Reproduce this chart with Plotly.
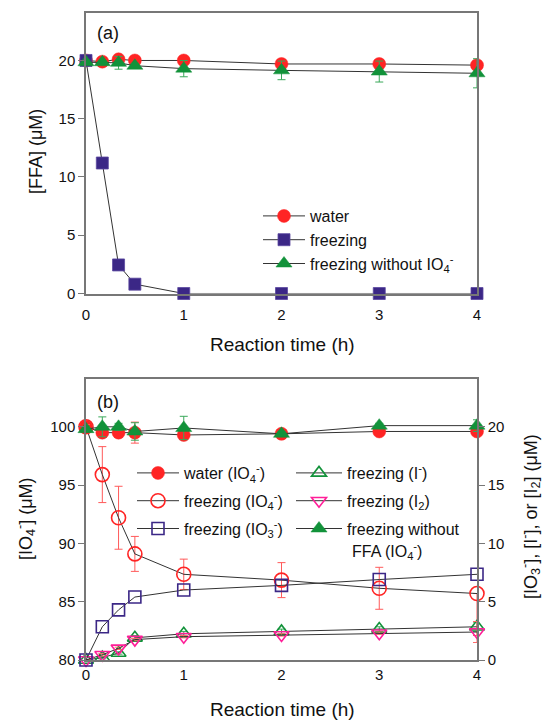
import plotly.graph_objects as go

# ---------------- data ----------------
time_h = [0, 0.167, 0.333, 0.5, 1, 2, 3, 4]

# panel (a): [FFA] (uM)
ffa_water = [20.0, 19.9, 20.1, 20.0, 20.0, 19.7, 19.7, 19.6]
ffa_water_err = [0.1, 0.1, 0.1, 0.1, 0.1, 0.15, 0.15, 0.15]
ffa_freezing = [20.0, 11.2, 2.45, 0.8, 0.0, 0.0, 0.0, 0.0]
ffa_freezing_err = [0.1, 0.35, 0.15, 0.2, 0.0, 0.0, 0.0, 0.0]
ffa_noio4 = [19.85, 19.85, 19.8, 19.55, 19.3, 19.15, 19.05, 18.9]
ffa_noio4_err = [0.1, 0.1, 0.55, 0.2, 0.7, 0.8, 0.9, 1.25]

# panel (b), left axis: [IO4-] (uM)
io4_water = [100.0, 99.5, 99.5, 99.5, 99.3, 99.4, 99.6, 99.6]
io4_water_err = [0.1, 0.2, 0.2, 0.9, 0.3, 0.2, 0.2, 0.2]
io4_freezing = [100.0, 95.9, 92.2, 89.1, 87.35, 86.85, 86.15, 85.7]
io4_freezing_err_plus = [0.2, 2.4, 2.7, 1.5, 1.3, 1.5, 1.8, 0.0]
io4_freezing_err_minus = [0.2, 2.4, 2.7, 1.5, 1.3, 1.5, 1.8, 3.6]
io4_noffa = [99.8, 100.0, 100.0, 99.6, 99.9, 99.4, 100.1, 100.1]
io4_noffa_err = [0.2, 0.85, 0.3, 0.75, 1.0, 0.2, 0.2, 0.5]

# panel (b), right axis: [IO3-], [I-], [I2] (uM)
io3_freezing = [0.0, 2.85, 4.3, 5.4, 6.0, 6.4, 6.9, 7.35]
iminus_freezing = [0.0, 0.2, 0.6, 1.9, 2.25, 2.45, 2.65, 2.85]
iminus_err = [0.0, 0.1, 0.1, 0.2, 0.2, 0.2, 0.2, 0.4]
i2_freezing = [0.0, 0.45, 1.0, 1.75, 2.0, 2.15, 2.3, 2.4]
i2_err = [0.0, 0.1, 0.1, 0.1, 0.1, 0.1, 0.1, 0.9]

x_ticks = [0, 1, 2, 3, 4]
ya_ticks = [0, 5, 10, 15, 20]
yb_left_ticks = [80, 85, 90, 95, 100]
yb_right_ticks = [0, 5, 10, 15, 20]

# ---------------- style ----------------
RED = "#FF2424"
RED_ERR = "#FF5A5A"
PURPLE = "#3B2786"
GREEN = "#12923A"
GREEN_ERR = "#3AA85A"
MAGENTA = "#FF1E98"
LINE = "#333333"
AXIS = "#777777"
FONT = "Liberation Sans, Arial, sans-serif"

W, H = 543, 722
M = 10  # uniform margin; all positions below are given in page pixels


def px_x(v):
    return (v - M) / (W - 2 * M)


def px_y(v):
    return 1 - (v - M) / (H - 2 * M)


fig = go.Figure()


def err(arr, color, minus=None):
    d = dict(type="data", array=arr, color=color, thickness=1, width=4, visible=True)
    if minus is not None:
        d["arrayminus"] = minus
        d["symmetric"] = False
    return d


# ---- panel (a)
fig.add_trace(go.Scatter(
    x=time_h, y=ffa_water, mode="lines+markers", name="water",
    line=dict(color=LINE, width=1),
    marker=dict(symbol="circle", size=13, color=RED, line=dict(color=RED, width=0.5)),
    error_y=err(ffa_water_err, RED_ERR), cliponaxis=False,
    xaxis="x", yaxis="y", legend="legend"))
fig.add_trace(go.Scatter(
    x=time_h, y=ffa_freezing, mode="lines+markers", name="freezing",
    line=dict(color=LINE, width=1),
    marker=dict(symbol="square", size=12, color=PURPLE, line=dict(color="#5A48A0", width=0.8)),
    error_y=err(ffa_freezing_err, PURPLE), cliponaxis=False,
    xaxis="x", yaxis="y", legend="legend"))
fig.add_trace(go.Scatter(
    x=time_h, y=ffa_noio4, mode="lines+markers", name="freezing without IO<sub>4</sub><sup>-</sup>",
    line=dict(color=LINE, width=1),
    marker=dict(symbol="triangle-up", size=14, color=GREEN, line=dict(color=GREEN, width=0.5)),
    error_y=err(ffa_noio4_err, GREEN_ERR), cliponaxis=False,
    xaxis="x", yaxis="y", legend="legend"))

# ---- panel (b) left axis
fig.add_trace(go.Scatter(
    x=time_h, y=io4_water, mode="lines+markers", name="water (IO<sub>4</sub><sup>-</sup>)",
    line=dict(color=LINE, width=1),
    marker=dict(symbol="circle", size=13, color=RED, line=dict(color=RED, width=0.5)),
    error_y=err(io4_water_err, RED_ERR), cliponaxis=False, legendgroup="g1",
    xaxis="x2", yaxis="y3", legend="legend2"))
fig.add_trace(go.Scatter(
    x=time_h, y=io4_freezing, mode="lines+markers", name="freezing (IO<sub>4</sub><sup>-</sup>)",
    line=dict(color=LINE, width=1),
    marker=dict(symbol="circle-open", size=14, color=RED, line=dict(color=RED, width=1.6)),
    error_y=err(io4_freezing_err_plus, RED_ERR, io4_freezing_err_minus), cliponaxis=False,
    legendgroup="g2", xaxis="x2", yaxis="y3", legend="legend2"))
fig.add_trace(go.Scatter(
    x=time_h, y=io4_noffa, mode="lines+markers", name="freezing without",
    line=dict(color=LINE, width=1),
    marker=dict(symbol="triangle-up", size=14, color=GREEN, line=dict(color=GREEN, width=0.5)),
    error_y=err(io4_noffa_err, GREEN_ERR), cliponaxis=False, legendrank=3, legendgroup="g6",
    xaxis="x2", yaxis="y3", legend="legend3"))

# ---- panel (b) right axis
fig.add_trace(go.Scatter(
    x=time_h, y=iminus_freezing, mode="lines+markers", name="freezing (I<sup>-</sup>)",
    line=dict(color=LINE, width=1),
    marker=dict(symbol="triangle-up-open", size=13, color=GREEN, line=dict(color=GREEN, width=1.6)),
    error_y=err(iminus_err, GREEN_ERR), cliponaxis=False, legendrank=1, legendgroup="g4",
    xaxis="x2", yaxis="y4", legend="legend3"))
fig.add_trace(go.Scatter(
    x=time_h, y=i2_freezing, mode="lines+markers", name="freezing (I<sub>2</sub>)",
    line=dict(color=LINE, width=1),
    marker=dict(symbol="triangle-down-open", size=13, color=MAGENTA, line=dict(color=MAGENTA, width=1.6)),
    error_y=err(i2_err, "#FF6A6A"), cliponaxis=False, legendrank=2, legendgroup="g5",
    xaxis="x2", yaxis="y4", legend="legend3"))
fig.add_trace(go.Scatter(
    x=time_h, y=io3_freezing, mode="lines+markers", name="freezing (IO<sub>3</sub><sup>-</sup>)",
    line=dict(color=LINE, width=1),
    marker=dict(symbol="square-open", size=12, color=PURPLE, line=dict(color=PURPLE, width=1.6)),
    cliponaxis=False, legendgroup="g3",
    xaxis="x2", yaxis="y4", legend="legend2"))

xdom = [px_x(86), px_x(477)]
tickfont = dict(family=FONT, size=15, color="#111111")
common_x = dict(range=[0, 4], tickvals=x_ticks, showline=True, mirror=True, linecolor=AXIS,
                linewidth=1.5, ticks="outside", tickcolor="rgba(0,0,0,0)", automargin=False,
                showgrid=False, zeroline=False, tickfont=tickfont, domain=xdom)
common_y = dict(showline=True, linecolor=AXIS, linewidth=1.5, ticks="outside", ticklen=6,
                tickcolor=AXIS, tickwidth=1.2, showgrid=False, zeroline=False, tickfont=tickfont,
                automargin=False)
legfont = dict(family=FONT, size=16, color="#111111")

fig.update_layout(
    width=W, height=H,
    margin=dict(l=M, r=M, t=M, b=M, pad=0, autoexpand=False),
    paper_bgcolor="white", plot_bgcolor="white",
    font=dict(family=FONT, color="#111111"),
    xaxis=dict(anchor="y", ticklen=7, **common_x),
    yaxis=dict(anchor="x", domain=[px_y(293.5), px_y(12.7)], range=[0, 24.1],
               tickvals=ya_ticks, mirror=True, **common_y),
    xaxis2=dict(anchor="y3", ticklen=0, **common_x),
    yaxis3=dict(anchor="x2", domain=[px_y(660), px_y(379)], range=[80, 104.1],
                tickvals=yb_left_ticks, mirror=False, **common_y),
    yaxis4=dict(anchor="x2", overlaying="y3", side="right", range=[0, 24.1],
                tickvals=yb_right_ticks, **common_y),
    showlegend=True,
    legend=dict(x=px_x(258), y=px_y(199), xanchor="left", yanchor="top", itemwidth=42,
                bgcolor="rgba(0,0,0,0)", font=legfont),
    legend2=dict(x=px_x(132), y=px_y(456), xanchor="left", yanchor="top", itemwidth=42,
                 tracegroupgap=4, bgcolor="rgba(0,0,0,0)", font=legfont),
    legend3=dict(x=px_x(291), y=px_y(456), xanchor="left", yanchor="top", itemwidth=46,
                 tracegroupgap=4, bgcolor="rgba(0,0,0,0)", font=legfont),
    annotations=[
        dict(text="(a)", x=px_x(95), y=px_y(33), xref="paper", yref="paper",
             xanchor="left", yanchor="middle", showarrow=False, font=dict(family=FONT, size=18)),
        dict(text="(b)", x=px_x(95), y=px_y(402), xref="paper", yref="paper",
             xanchor="left", yanchor="middle", showarrow=False, font=dict(family=FONT, size=18)),
        dict(text="[FFA] (μM)", x=px_x(36), y=px_y(152), xref="paper", yref="paper",
             xanchor="center", yanchor="middle", textangle=-90, showarrow=False,
             font=dict(family=FONT, size=18)),
        dict(text="Reaction time (h)", x=px_x(282), y=px_y(344), xref="paper", yref="paper",
             xanchor="center", yanchor="middle", showarrow=False, font=dict(family=FONT, size=19)),
        dict(text="[IO<sub>4</sub><sup>-</sup>] (μM)", x=px_x(25), y=px_y(519), xref="paper", yref="paper",
             xanchor="center", yanchor="middle", textangle=-90, showarrow=False,
             font=dict(family=FONT, size=18)),
        dict(text="[IO<sub>3</sub><sup>-</sup>], [I<sup>-</sup>], or [I<sub>2</sub>] (μM)",
             x=px_x(530), y=px_y(517), xref="paper", yref="paper",
             xanchor="center", yanchor="middle", textangle=-90, showarrow=False,
             font=dict(family=FONT, size=18)),
        dict(text="Reaction time (h)", x=px_x(282), y=px_y(709), xref="paper", yref="paper",
             xanchor="center", yanchor="middle", showarrow=False, font=dict(family=FONT, size=19)),
        dict(text="FFA (IO<sub>4</sub><sup>-</sup>)", x=px_x(350), y=px_y(551), xref="paper", yref="paper",
             xanchor="left", yanchor="middle", showarrow=False, font=legfont),
    ],
)

post = """
document.body.style.margin='0';
document.body.style.overflow='hidden';
"""
fig.write_html("out.html", post_script=post, config={"displayModeBar": False})
